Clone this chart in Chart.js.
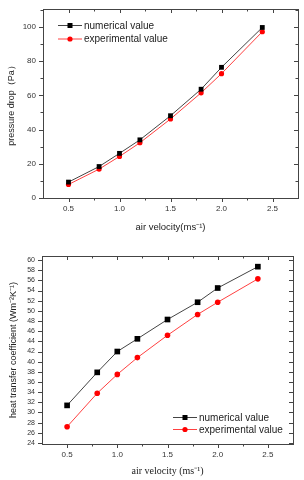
<!DOCTYPE html>
<html>
<head>
<meta charset="utf-8">
<script src="https://cdn.jsdelivr.net/npm/chart.js@4"></script>
<style>
  body { margin: 0; background: #fff; }
  canvas { position: absolute; left: 0; }
  #topChart { top: 0; }
  #bottomChart { top: 240px; }
</style>
</head>
<body>
<canvas id="topChart" width="304" height="240"></canvas>
<canvas id="bottomChart" width="304" height="240"></canvas>
<script>
// air velocity (m/s)
const velocity = [0.5, 0.8, 1.0, 1.2, 1.5, 1.8, 2.0, 2.4];

// pressure drop (Pa)
const pressureNumerical = [9.3, 18.4, 26.1, 34.0, 48.1, 63.6, 76.4, 99.7];
const pressureExperimental = [7.9, 16.9, 24.3, 32.3, 46.2, 61.5, 72.7, 97.2];

// heat transfer coefficient
const htcNumerical = [31.4, 37.9, 42.0, 44.5, 48.3, 51.7, 54.5, 58.7];
const htcExperimental = [27.2, 33.8, 37.5, 40.8, 45.2, 49.3, 51.7, 56.3];

const xTicks = [0.5, 1.0, 1.5, 2.0, 2.5];
const pressureTicks = [0, 20, 40, 60, 80, 100];
const htcTicks = [24, 26, 28, 30, 32, 34, 36, 38, 40, 42, 44, 46, 48, 50, 52, 54, 56, 58, 60];

const seriesNames = ["numerical value", "experimental value"];

const SANS = "'Liberation Sans', Arial, sans-serif";
const SERIF = "'Liberation Serif', 'Times New Roman', serif";

function toPoints(xs, ys) {
    return xs.map((x, i) => ({ x: x, y: ys[i] }));
}

// frame around the plot with ticks out on left/bottom, in on top/right
const framePlugin = {
    id: "frame",
    afterDatasetsDraw(chart, args, opts) {
        const ctx = chart.ctx;
        const a = chart.chartArea;
        const xs = chart.scales.x;
        const ys = chart.scales.y;
        ctx.save();
        ctx.strokeStyle = "#444";
        ctx.lineWidth = 1;
        ctx.strokeRect(Math.round(a.left) + 0.5, Math.round(a.top) + 0.5,
            Math.round(a.right - a.left), Math.round(a.bottom - a.top));

        const major = 4, minor = 2.5;
        const line = (x1, y1, x2, y2) => {
            ctx.beginPath();
            ctx.moveTo(x1, y1);
            ctx.lineTo(x2, y2);
            ctx.stroke();
        };
        const xMarks = [];
        opts.xTicks.forEach((v, i) => {
            xMarks.push([v, major]);
            if (i < opts.xTicks.length - 1) xMarks.push([(v + opts.xTicks[i + 1]) / 2, minor]);
        });
        xMarks.push([opts.xTicks[0] - 0.25, minor]);
        xMarks.push([opts.xTicks[opts.xTicks.length - 1] + 0.25, minor]);
        xMarks.forEach(([v, len]) => {
            const px = Math.round(xs.getPixelForValue(v)) + 0.5;
            if (px < a.left + 1 || px > a.right - 1) return;
            line(px, a.bottom, px, a.bottom + len);
            line(px, a.top, px, a.top + len);
        });
        const yMarks = [];
        opts.yTicks.forEach((v, i) => {
            yMarks.push([v, major]);
            if (opts.yMinor && i < opts.yTicks.length - 1) yMarks.push([(v + opts.yTicks[i + 1]) / 2, minor]);
        });
        if (opts.yMinor) yMarks.push([opts.yTicks[opts.yTicks.length - 1] + (opts.yTicks[1] - opts.yTicks[0]) / 2, minor]);
        yMarks.forEach(([v, len]) => {
            const py = Math.round(ys.getPixelForValue(v)) + 0.5;
            if (py < a.top - 0.5 || py > a.bottom + 1) return;
            line(a.left - len, py, a.left, py);
            line(a.right - len, py, a.right, py);
        });
        ctx.restore();
    }
};

// legend drawn inside the plot: line with marker, then label
const innerLegend = {
    id: "innerLegend",
    afterDraw(chart, args, opts) {
        const ctx = chart.ctx;
        ctx.save();
        chart.data.datasets.forEach((ds, i) => {
            const y = opts.y + i * opts.gap;
            ctx.strokeStyle = ds.borderColor;
            ctx.lineWidth = 1;
            ctx.beginPath();
            ctx.moveTo(opts.x, y + 0.5);
            ctx.lineTo(opts.x + opts.lineLen, y + 0.5);
            ctx.stroke();
            ctx.fillStyle = ds.pointBackgroundColor;
            const cx = opts.x + opts.lineLen / 2;
            if (ds.pointStyle === "rect") {
                ctx.fillRect(cx - 2.5, y - 2, 5, 5);
            } else {
                ctx.beginPath();
                ctx.arc(cx, y + 0.5, 2.6, 0, Math.PI * 2);
                ctx.fill();
            }
            ctx.fillStyle = "#222";
            ctx.font = opts.font;
            ctx.textBaseline = "middle";
            ctx.fillText(ds.label, opts.x + opts.lineLen + 2, y + 1);
        });
        ctx.restore();
    }
};

function makeChart(id, cfg) {
    const ctx = document.getElementById(id).getContext("2d");
    return new Chart(ctx, {
        type: "line",
        data: {
            datasets: [{
                label: seriesNames[0],
                data: toPoints(velocity, cfg.num),
                borderColor: "#444",
                borderWidth: 1,
                pointStyle: "rect",
                pointRadius: cfg.rectRadius,
                pointBackgroundColor: "#000",
                pointBorderWidth: 0
            }, {
                label: seriesNames[1],
                data: toPoints(velocity, cfg.exp),
                borderColor: "#ff4040",
                borderWidth: 1,
                pointStyle: "circle",
                pointRadius: cfg.circleRadius,
                pointBackgroundColor: "#ff0000",
                pointBorderWidth: 0
            }]
        },
        options: {
            responsive: false,
            animation: false,
            devicePixelRatio: 1,
            layout: { padding: cfg.padding },
            scales: {
                x: {
                    type: "linear",
                    min: 0.25,
                    max: 2.75,
                    afterBuildTicks: s => { s.ticks = xTicks.map(v => ({ value: v })); },
                    afterFit: s => { s.height = cfg.xHeight; },
                    grid: { display: false, drawTicks: true, tickLength: 3 },
                    border: { display: false },
                    ticks: {
                        color: "#333",
                        font: { family: SANS, size: 8 },
                        padding: cfg.xTickPad,
                        maxRotation: 0,
                        autoSkip: false,
                        callback: v => v.toFixed(1)
                    },
                    title: {
                        display: true,
                        text: cfg.xTitle,
                        color: "#222",
                        font: cfg.xTitleFont,
                        padding: cfg.xTitlePad
                    }
                },
                y: {
                    type: "linear",
                    min: cfg.yMin,
                    max: cfg.yMax,
                    afterBuildTicks: s => { s.ticks = cfg.yTicks.map(v => ({ value: v })); },
                    afterFit: s => { s.width = cfg.yWidth; },
                    grid: { display: false, drawTicks: true, tickLength: 4 },
                    border: { display: false },
                    ticks: {
                        color: "#333",
                        font: { family: SANS, size: cfg.yTickSize },
                        padding: cfg.yTickPad,
                        autoSkip: false
                    },
                    title: {
                        display: true,
                        text: cfg.yTitle,
                        color: "#222",
                        font: { family: "Liberation Sans", size: 9 },
                        padding: cfg.yTitlePad
                    }
                }
            },
            plugins: {
                legend: { display: false },
                tooltip: { enabled: false },
                frame: { xTicks: xTicks, yTicks: cfg.yTicks, yMinor: cfg.yMinor },
                innerLegend: cfg.legend
            }
        },
        plugins: [framePlugin, innerLegend]
    });
}

makeChart("topChart", {
    num: pressureNumerical,
    exp: pressureExperimental,
    rectRadius: 3.4,
    circleRadius: 2.6,
    padding: { top: 9, right: 6, left: 0, bottom: 0 },
    xHeight: 42,
    yWidth: 43,
    xTickPad: 3,
    yTickPad: 3,
    yTickSize: 8,
    xTitle: "air velocity(ms\u207B\u00B9)",
    xTitleFont: { family: SANS, size: 9.5 },
    xTitlePad: { top: 2, bottom: 7 },
    yMin: 0,
    yMax: 110.5,
    yTicks: pressureTicks,
    yMinor: true,
    yTitle: "pressure drop\uFF08Pa\uFF09",
    yTitlePad: { top: 6, bottom: 2 },
    legend: { x: 58, y: 25, gap: 13.5, lineLen: 24, font: "10px " + SANS }
});

makeChart("bottomChart", {
    num: htcNumerical,
    exp: htcExperimental,
    rectRadius: 4,
    circleRadius: 2.8,
    padding: { top: 16, right: 11, left: 0, bottom: 0 },
    xHeight: 36,
    yWidth: 42,
    xTickPad: 3,
    yTickPad: 3,
    yTickSize: 7,
    xTitle: "air velocity (ms\u207B\u00B9)",
    xTitleFont: { family: SERIF, size: 10 },
    xTitlePad: { top: 2, bottom: 3 },
    yMin: 23.8,
    yMax: 60.8,
    yTicks: htcTicks,
    yMinor: false,
    yTitle: "heat transfer coefficient (Wm\u207B\u00B2K\u207B\u00B9)",
    yTitlePad: { top: 8, bottom: 2 },
    legend: { x: 173, y: 177, gap: 12, lineLen: 24, font: "10px " + SANS }
});
</script>
</body>
</html>
